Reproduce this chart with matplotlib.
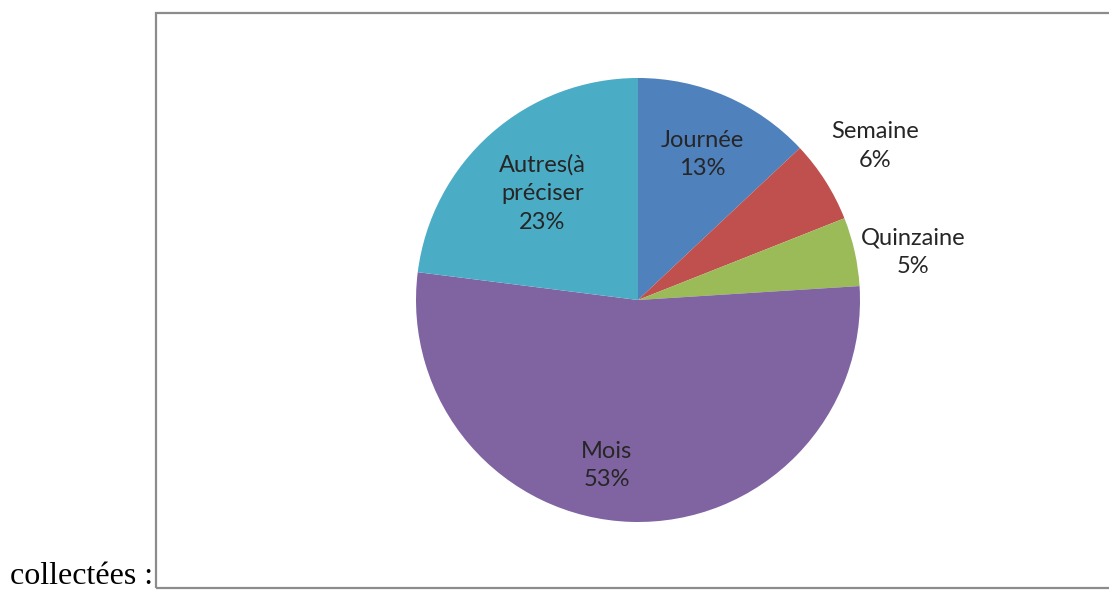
import matplotlib
matplotlib.use("Agg")
import matplotlib.pyplot as plt
from matplotlib.patches import Rectangle

categories = ["Journée", "Semaine", "Quinzaine", "Mois", "Autres(à\npréciser"]
values = [13, 6, 5, 53, 23]
pct_labels = ["13%", "6%", "5%", "53%", "23%"]
colors = ["#4F81BD", "#C0504D", "#9BBB59", "#8064A2", "#4BACC6"]

W, H = 1109, 590
fig = plt.figure(figsize=(W / 100, H / 100), dpi=100)

# chart frame
fig.patches.append(Rectangle((156 / W, 1 - 588 / H), (W + 10 - 156) / W, (588 - 13) / H,
                             transform=fig.transFigure, fill=False,
                             edgecolor="#8c8c8c", linewidth=1.6))

cx, cy, r = 638, 300, 222
ax = fig.add_axes([(cx - r) / W, 1 - (cy + r) / H, 2 * r / W, 2 * r / H])
wedges, _ = ax.pie(values, colors=colors, startangle=90, counterclock=False,
                   radius=1, wedgeprops=dict(linewidth=0))
ax.set_xlim(-1, 1)
ax.set_ylim(-1, 1)
ax.set_aspect("auto")
ax.axis("off")

# label positions (data units relative to pie radius)
label_pos = [(0.29, 0.655), (1.07, 0.695), (1.24, 0.215), (-0.14, -0.745), (-0.43, 0.48)]
for cat, p, (x, y) in zip(categories, pct_labels, label_pos):
    ax.text(x, y, f"{cat}\n{p}", ha="center", va="center", fontsize=17,
            family="Lato", color="#262626", linespacing=1.45, clip_on=False)

fig.text(10 / W, 1 - 584 / H, "collectées :", family="Liberation Serif",
         fontsize=23, color="black", ha="left", va="baseline")

fig.savefig("out.png", dpi=100)
